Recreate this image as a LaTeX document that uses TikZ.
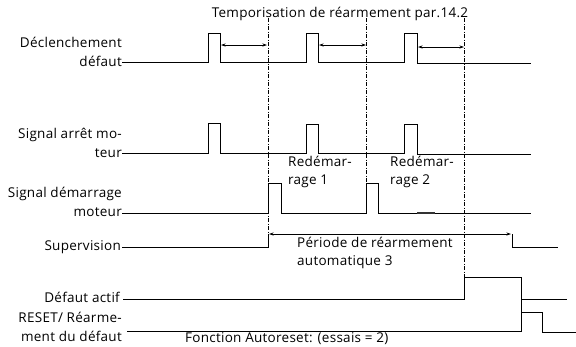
\documentclass[tikz,border=0pt]{standalone}
\usepackage{fontspec}
\setmainfont{Open Sans}[LetterSpace=2]
\usetikzlibrary{arrows.meta}
\begin{document}
\begin{tikzpicture}[x=1pt,y=-1pt,
  sig/.style={line width=0.8pt},
  guide/.style={line width=0.6pt, dash pattern=on 4pt off 1.5pt on 1pt off 1.5pt},
  lbl/.style={anchor=east, inner sep=0pt, align=right, font=\fontsize{13.5}{19}\selectfont},
  txt/.style={anchor=west, inner sep=0pt, align=left, font=\fontsize{13.5}{18}\selectfont},
  dimarrow/.style={{Stealth[length=4.5pt,width=3pt]}-{Stealth[length=4.5pt,width=3pt]}, line width=0.7pt}]
\useasboundingbox (0,0) rectangle (576,346);
% guides
\draw[guide] (268,18) -- (268,247);
\draw[guide] (366,18) -- (366,213);
\draw[guide] (464,18) -- (464,277);
% title
\node[txt, anchor=center] (title) at (340,14) {Temporisation de réarmement par.14.2};
% labels
\node[lbl] (l1) at (122,51.5) {Déclenchement\\défaut};
\node[lbl] (l2) at (122,142.5) {Signal arrêt mo-\\teur};
\node[lbl] (l3) at (122,202) {Signal démarrage\\moteur};
\node[lbl] (l4) at (121,247) {Supervision};
\node[lbl] (l5) at (120,297) {Défaut actif};
\node[lbl] (l6) at (122,327) {RESET/ Réarme-\\ment du défaut};
% other texts
\node[txt] (r1) at (288,172) {Redémar-\\rage 1};
\node[txt] (r2) at (390,172) {Redémar-\\rage 2};
\node[txt] (per) at (297,253) {Période de réarmement\\automatique 3};
\node[txt] (fct) at (185,339) {Fonction Autoreset: (essais = 2)};
% Declenchement defaut
\draw[sig] (122,62) -- (208,62) -- (208,33) -- (220,33) -- (220,62) -- (306,62) -- (306,33) -- (318,33) -- (318,62) -- (404,62) -- (404,33) -- (417,33) -- (417,63) -- (531,63);
\draw[dimarrow] (221,45) -- (267,45);
\draw[dimarrow] (319,45) -- (366,45);
\draw[dimarrow] (418,47) -- (464,47);
% Signal arret moteur
\draw[sig] (122,153) -- (208,153) -- (208,123) -- (220,123) -- (220,153) -- (306,153) -- (306,124) -- (318,124) -- (318,153) -- (404,153) -- (404,124) -- (417,124) -- (417,154) -- (531,154);
% Signal demarrage moteur
\draw[sig] (122,213) -- (268,213) -- (268,183) -- (281,183) -- (281,213) -- (366,213) -- (366,183) -- (378,183) -- (378,213) -- (531,213);
\draw[line width=1.4pt, black!80] (417,213) -- (435,213);
% Supervision
\draw[sig] (122,247) -- (268,247) -- (268,234);
\draw[dimarrow] (269,234) -- (511,234);
\draw[sig] (512,234) -- (512,247) -- (558,247);
% Defaut actif
\draw[sig] (123,299) -- (464,299) -- (464,277) -- (521,277) -- (521,331);
\draw[sig] (521,299) -- (567,299);
% RESET
\draw[sig] (127,331) -- (521,331) -- (521,312) -- (542,312) -- (542,332) -- (576,332);
\end{tikzpicture}
\end{document}
